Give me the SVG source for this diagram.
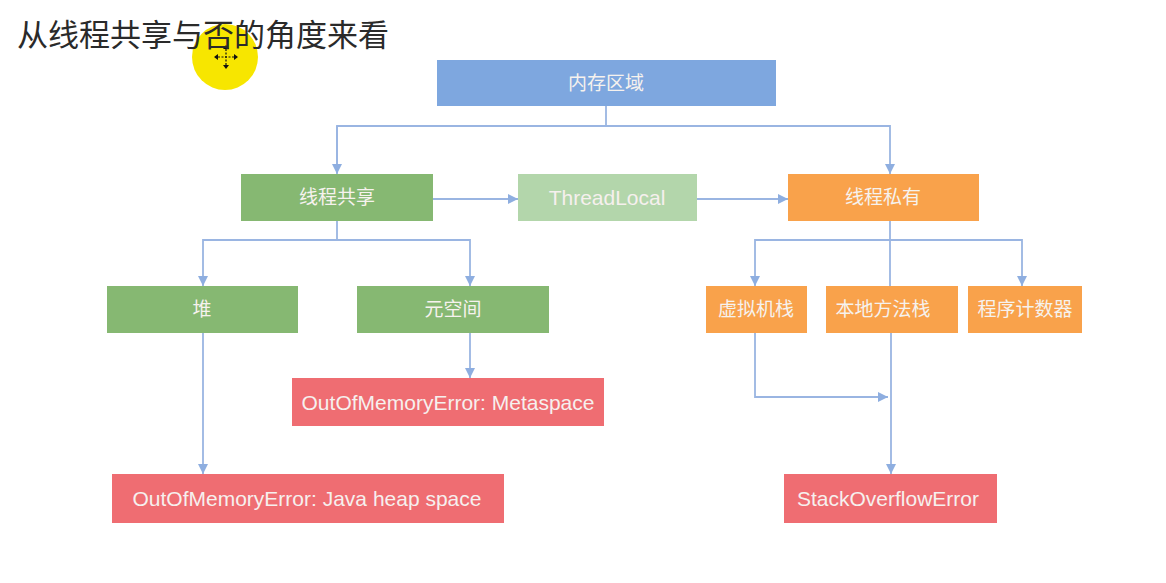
<svg xmlns="http://www.w3.org/2000/svg" width="1166" height="583" viewBox="0 0 1166 583">
<defs>
<marker id="arr" viewBox="0 0 10 10" refX="10" refY="5" markerWidth="10" markerHeight="10" markerUnits="userSpaceOnUse" orient="auto">
<path d="M0,0 L10,5 L0,10 Z" fill="#8eaee0"/>
</marker>
</defs>
<style>
.bg{fill:#ffffff}
.ln{fill:none;stroke:#9ab5e2;stroke-width:1.8}
.ar{marker-end:url(#arr)}
.blue{fill:#7ea7df}
.green{fill:#86b872}
.lgreen{fill:#b3d6ab}
.orange{fill:#f9a24b}
.red{fill:#ef6d72}
.lbl{font-family:"Noto Sans CJK SC","Liberation Sans",sans-serif;font-size:19px;fill:#f6f2ee;text-anchor:middle}
.lat{font-family:"Liberation Sans","Noto Sans CJK SC",sans-serif;font-size:21px;fill:#f6f0ee;text-anchor:middle}
.title{font-family:"Noto Sans CJK SC",sans-serif;font-size:31px;fill:#2a2a2a}
</style>
<rect class="bg" x="0" y="0" width="1166" height="583"/>
<g id="cursor">
<circle cx="225" cy="57" r="33" fill="#f7e600"/>
<path d="M226,49 L226,65 M218,57 L234,57" stroke="#111" stroke-width="1.2" stroke-dasharray="2 1.5"/>
<path d="M226,45 l-3,4 h6 Z M226,69 l-3,-4 h6 Z M214,57 l4,-3 v6 Z M238,57 l-4,-3 v6 Z" fill="#111"/>
</g>
<text class="title" x="17" y="46">从线程共享与否的角度来看</text>
<g id="connectors">
<path class="ln" d="M606,106 V126 H337 V173"/>
<path class="ln ar" d="M337,126 V174"/>
<path class="ln ar" d="M606,126 H890 V174"/>
<path class="ln ar" d="M433,199 H518"/>
<path class="ln ar" d="M697,199 H788"/>
<path class="ln ar" d="M337,221 V240 H203 V286"/>
<path class="ln ar" d="M337,240 H470 V286"/>
<path class="ln ar" d="M470,333 V378"/>
<path class="ln ar" d="M203,333 V474"/>
<path class="ln" d="M890,221 V286"/>
<path class="ln ar" d="M890,240 H755 V286"/>
<path class="ln ar" d="M890,240 H1022 V286"/>
<path class="ln ar" d="M755,333 V397 H888"/>
<path class="ln ar" d="M891,333 V474"/>
</g>
<g id="n-memory"><rect class="blue" x="437" y="60" width="339" height="46"/><text class="lbl" x="606" y="90">内存区域</text></g>
<g id="n-shared"><rect class="green" x="241" y="174" width="192" height="47"/><text class="lbl" x="337" y="204">线程共享</text></g>
<g id="n-threadlocal"><rect class="lgreen" x="518" y="174" width="179" height="47"/><text class="lat" x="607" y="205">ThreadLocal</text></g>
<g id="n-private"><rect class="orange" x="788" y="174" width="191" height="47"/><text class="lbl" x="883" y="204">线程私有</text></g>
<g id="n-heap"><rect class="green" x="107" y="286" width="191" height="47"/><text class="lbl" x="202" y="316">堆</text></g>
<g id="n-metaspace"><rect class="green" x="357" y="286" width="192" height="47"/><text class="lbl" x="453" y="316">元空间</text></g>
<g id="n-vmstack"><rect class="orange" x="706" y="286" width="101" height="47"/><text class="lbl" x="756" y="316">虚拟机栈</text></g>
<g id="n-nativestack"><rect class="orange" x="826" y="286" width="132" height="47"/><text class="lbl" x="883" y="316">本地方法栈</text></g>
<g id="n-pc"><rect class="orange" x="968" y="286" width="114" height="47"/><text class="lbl" x="1025" y="316">程序计数器</text></g>
<g id="n-oom-meta"><rect class="red" x="292" y="378" width="312" height="48"/><text class="lat" x="448" y="410">OutOfMemoryError: Metaspace</text></g>
<g id="n-oom-heap"><rect class="red" x="112" y="474" width="392" height="49"/><text class="lat" x="307" y="506">OutOfMemoryError: Java heap space</text></g>
<g id="n-soe"><rect class="red" x="784" y="474" width="213" height="49"/><text class="lat" x="888" y="506">StackOverflowError</text></g>
</svg>
